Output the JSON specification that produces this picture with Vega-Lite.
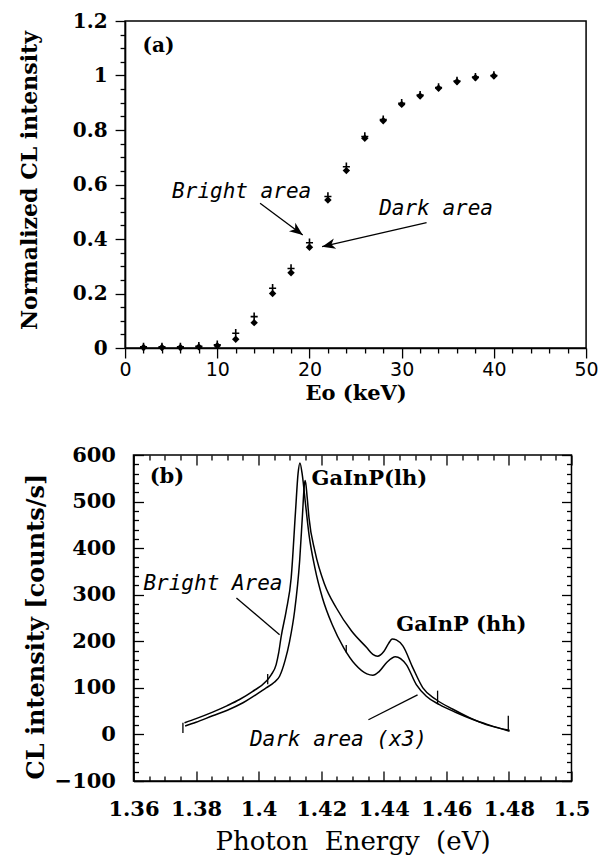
{
  "$schema": "https://vega.github.io/schema/vega-lite/v6.json",
  "background": "white",
  "padding": {"left": 17, "top": 10, "right": 5, "bottom": 5},
  "center": true,
  "spacing": 39,
  "config": {
    "view": {"stroke": "black", "strokeWidth": 1.5},
    "axis": {"grid": false, "domainColor": "black", "domainWidth": 1.5, "tickColor": "black", "tickWidth": 1.3, "labelColor": "black", "titleColor": "black", "labelFlush": false, "labelOverlap": false, "format": "~r"}
  },
  "datasets": {
    "pts": [
      {"E": 2, "I": 0.002, "area": "Dark"}, {"E": 4, "I": 0.002, "area": "Dark"}, {"E": 6, "I": 0.002, "area": "Dark"}, {"E": 8, "I": 0.004, "area": "Dark"}, {"E": 10, "I": 0.008, "area": "Dark"},
      {"E": 12, "I": 0.032, "area": "Dark"}, {"E": 14, "I": 0.093, "area": "Dark"}, {"E": 16, "I": 0.2, "area": "Dark"}, {"E": 18, "I": 0.276, "area": "Dark"}, {"E": 20, "I": 0.37, "area": "Dark"},
      {"E": 22, "I": 0.543, "area": "Dark"}, {"E": 24, "I": 0.651, "area": "Dark"}, {"E": 26, "I": 0.77, "area": "Dark"}, {"E": 28, "I": 0.834, "area": "Dark"}, {"E": 30, "I": 0.894, "area": "Dark"},
      {"E": 32, "I": 0.925, "area": "Dark"}, {"E": 34, "I": 0.953, "area": "Dark"}, {"E": 36, "I": 0.977, "area": "Dark"}, {"E": 38, "I": 0.992, "area": "Dark"}, {"E": 40, "I": 0.998, "area": "Dark"},
      {"E": 2, "I": 0.004, "area": "Bright"}, {"E": 4, "I": 0.004, "area": "Bright"}, {"E": 6, "I": 0.004, "area": "Bright"}, {"E": 8, "I": 0.006, "area": "Bright"}, {"E": 10, "I": 0.012, "area": "Bright"},
      {"E": 12, "I": 0.054, "area": "Bright"}, {"E": 14, "I": 0.115, "area": "Bright"}, {"E": 16, "I": 0.219, "area": "Bright"}, {"E": 18, "I": 0.292, "area": "Bright"}, {"E": 20, "I": 0.386, "area": "Bright"},
      {"E": 22, "I": 0.556, "area": "Bright"}, {"E": 24, "I": 0.665, "area": "Bright"}, {"E": 26, "I": 0.776, "area": "Bright"}, {"E": 28, "I": 0.838, "area": "Bright"}, {"E": 30, "I": 0.898, "area": "Bright"},
      {"E": 32, "I": 0.928, "area": "Bright"}, {"E": 34, "I": 0.956, "area": "Bright"}, {"E": 36, "I": 0.98, "area": "Bright"}, {"E": 38, "I": 0.994, "area": "Bright"}, {"E": 40, "I": 1.0, "area": "Bright"}
    ],
    "arrowsA": [
      {"E": 14.64, "I": 0.531, "E2": 19.27, "I2": 0.415, "name": "Bright"},
      {"E": 32.7, "I": 0.46, "E2": 21.37, "I2": 0.372, "name": "Dark"}
    ],
    "labelsA": [
      {"E": 12.64, "I": 0.55, "t": "Bright area"},
      {"E": 33.73, "I": 0.488, "t": "Dark area"}
    ],
    "spectra": [
      {"E": 1.3763, "I": 25, "s": "Bright"}, {"E": 1.380, "I": 34, "s": "Bright"}, {"E": 1.3853, "I": 48, "s": "Bright"}, {"E": 1.390, "I": 62, "s": "Bright"}, {"E": 1.3939, "I": 75, "s": "Bright"},
      {"E": 1.398, "I": 92, "s": "Bright"}, {"E": 1.4024, "I": 114, "s": "Bright"}, {"E": 1.4040, "I": 128, "s": "Bright"}, {"E": 1.4056, "I": 150, "s": "Bright"}, {"E": 1.4064, "I": 175, "s": "Bright"},
      {"E": 1.4072, "I": 210, "s": "Bright"}, {"E": 1.4088, "I": 265, "s": "Bright"}, {"E": 1.4104, "I": 336, "s": "Bright"}, {"E": 1.4118, "I": 480, "s": "Bright"}, {"E": 1.4126, "I": 560, "s": "Bright"},
      {"E": 1.4132, "I": 583, "s": "Bright"}, {"E": 1.4140, "I": 555, "s": "Bright"}, {"E": 1.4149, "I": 500, "s": "Bright"}, {"E": 1.4161, "I": 429, "s": "Bright"}, {"E": 1.4180, "I": 357, "s": "Bright"},
      {"E": 1.4204, "I": 293, "s": "Bright"}, {"E": 1.4235, "I": 236, "s": "Bright"}, {"E": 1.4272, "I": 186, "s": "Bright"}, {"E": 1.4309, "I": 150, "s": "Bright"}, {"E": 1.4346, "I": 130, "s": "Bright"},
      {"E": 1.4365, "I": 127, "s": "Bright"}, {"E": 1.4385, "I": 135, "s": "Bright"}, {"E": 1.4410, "I": 155, "s": "Bright"}, {"E": 1.4437, "I": 167, "s": "Bright"}, {"E": 1.4472, "I": 150, "s": "Bright"},
      {"E": 1.4504, "I": 107, "s": "Bright"}, {"E": 1.4536, "I": 82, "s": "Bright"}, {"E": 1.4578, "I": 64, "s": "Bright"}, {"E": 1.4631, "I": 47, "s": "Bright"}, {"E": 1.4685, "I": 32, "s": "Bright"},
      {"E": 1.4738, "I": 20, "s": "Bright"}, {"E": 1.4802, "I": 7, "s": "Bright"},
      {"E": 1.3765, "I": 18, "s": "Dark"}, {"E": 1.380, "I": 26, "s": "Dark"}, {"E": 1.3853, "I": 40, "s": "Dark"}, {"E": 1.390, "I": 52, "s": "Dark"}, {"E": 1.395, "I": 68, "s": "Dark"},
      {"E": 1.4024, "I": 100, "s": "Dark"}, {"E": 1.4050, "I": 112, "s": "Dark"}, {"E": 1.4067, "I": 125, "s": "Dark"}, {"E": 1.4085, "I": 160, "s": "Dark"}, {"E": 1.4099, "I": 200, "s": "Dark"},
      {"E": 1.4115, "I": 265, "s": "Dark"}, {"E": 1.4131, "I": 372, "s": "Dark"}, {"E": 1.4140, "I": 470, "s": "Dark"}, {"E": 1.4146, "I": 535, "s": "Dark"}, {"E": 1.4149, "I": 545, "s": "Dark"},
      {"E": 1.4155, "I": 510, "s": "Dark"}, {"E": 1.4161, "I": 465, "s": "Dark"}, {"E": 1.4180, "I": 393, "s": "Dark"}, {"E": 1.4211, "I": 322, "s": "Dark"}, {"E": 1.4248, "I": 272, "s": "Dark"},
      {"E": 1.4297, "I": 222, "s": "Dark"}, {"E": 1.4346, "I": 186, "s": "Dark"}, {"E": 1.4365, "I": 172, "s": "Dark"}, {"E": 1.4380, "I": 168, "s": "Dark"}, {"E": 1.4400, "I": 178, "s": "Dark"},
      {"E": 1.4415, "I": 195, "s": "Dark"}, {"E": 1.4427, "I": 205, "s": "Dark"}, {"E": 1.4440, "I": 203, "s": "Dark"}, {"E": 1.4461, "I": 190, "s": "Dark"}, {"E": 1.4493, "I": 143, "s": "Dark"},
      {"E": 1.4525, "I": 100, "s": "Dark"}, {"E": 1.4567, "I": 75, "s": "Dark"}, {"E": 1.4621, "I": 54, "s": "Dark"}, {"E": 1.4674, "I": 36, "s": "Dark"}, {"E": 1.4727, "I": 21, "s": "Dark"},
      {"E": 1.4802, "I": 9, "s": "Dark"}
    ],
    "spikes": [
      {"E": 1.3758, "lo": 3, "hi": 25},
      {"E": 1.4029, "lo": 108, "hi": 130},
      {"E": 1.428, "lo": 176, "hi": 192},
      {"E": 1.4572, "lo": 66, "hi": 94},
      {"E": 1.4798, "lo": 10, "hi": 40}
    ],
    "pointersB": [
      {"E": 1.3929, "I": 293, "E2": 1.4067, "I2": 214},
      {"E": 1.4351, "I": 31.5, "E2": 1.4508, "I2": 85}
    ],
    "boldB": [
      {"E": 1.3707, "I": 553, "t": "(b)"},
      {"E": 1.4354, "I": 549, "t": "GaInP(lh)"},
      {"E": 1.4648, "I": 234, "t": "GaInP (hh)"}
    ],
    "italB": [
      {"E": 1.3854, "I": 310, "t": "Bright Area"},
      {"E": 1.4255, "I": -24, "t": "Dark area (x3)"}
    ]
  },
  "vconcat": [
    {
      "width": 461,
      "height": 327,
      "resolve": {"axis": {"x": "independent", "y": "independent"}},
      "layer": [
        {
          "data": {"name": "pts"},
          "transform": [{"filter": "datum.area === 'Dark'"}],
          "mark": {"type": "point", "shape": "diamond", "filled": true, "color": "black", "size": 55, "opacity": 1},
          "encoding": {
            "x": {"field": "E", "type": "quantitative", "scale": {"domain": [0, 50], "nice": false, "zero": false},
              "axis": {"orient": "bottom", "values": [0, 10, 20, 30, 40, 50], "tickSize": 10, "labelPadding": 2,
                "labelFont": "DejaVu Sans", "labelFontSize": 19, "labelBaseline": "top",
                "title": "Eo (keV)", "titleFont": "DejaVu Serif", "titleFontWeight": "bold", "titleFontSize": 21,
                "titleY": 45, "titleBaseline": "middle"}},
            "y": {"field": "I", "type": "quantitative", "scale": {"domain": [0, 1.2], "nice": false, "zero": false},
              "axis": {"orient": "left", "values": [0, 0.2, 0.4, 0.6, 0.8, 1, 1.2], "tickSize": 10, "labelPadding": 8,
                "labelFont": "DejaVu Serif", "labelFontWeight": "bold", "labelFontSize": 20,
                "title": "Normalized CL intensity", "titleFont": "DejaVu Serif", "titleFontWeight": "bold", "titleFontSize": 22,
                "titleX": -96, "titleY": 159, "titleBaseline": "middle", "titleAlign": "center"}}
          }
        },
        {
          "data": {"name": "pts"},
          "transform": [{"filter": "datum.area === 'Bright'"}],
          "mark": {"type": "point", "shape": "M-1,0L1,0M0,-1.2L0,1", "filled": false, "stroke": "black", "strokeWidth": 1.6, "size": 50, "opacity": 1},
          "encoding": {
            "x": {"field": "E", "type": "quantitative",
              "axis": {"orient": "bottom", "values": [2, 4, 6, 8, 12, 14, 16, 18, 22, 24, 26, 28, 32, 34, 36, 38, 42, 44, 46, 48], "tickSize": 5, "labels": false, "domain": false, "title": null}},
            "y": {"field": "I", "type": "quantitative",
              "axis": {"orient": "left", "values": [0.05, 0.1, 0.15, 0.25, 0.3, 0.35, 0.45, 0.5, 0.55, 0.65, 0.7, 0.75, 0.85, 0.9, 0.95, 1.05, 1.1, 1.15], "tickSize": 5, "labels": false, "domain": false, "title": null}}
          }
        },
        {
          "data": {"name": "arrowsA"},
          "mark": {"type": "rule", "color": "black", "strokeWidth": 1.3},
          "encoding": {
            "x": {"field": "E", "type": "quantitative", "axis": null},
            "y": {"field": "I", "type": "quantitative", "axis": null},
            "x2": {"field": "E2"},
            "y2": {"field": "I2"}
          }
        },
        {
          "data": {"name": "arrowsA"},
          "transform": [{"filter": "datum.name === 'Bright'"}],
          "mark": {"type": "point", "shape": "M0,0L-1,-0.4L-0.72,0L-1,0.4Z", "filled": true, "color": "black", "size": 700, "angle": 36.6, "opacity": 1},
          "encoding": {
            "x": {"field": "E2", "type": "quantitative", "axis": null},
            "y": {"field": "I2", "type": "quantitative", "axis": null}
          }
        },
        {
          "data": {"name": "arrowsA"},
          "transform": [{"filter": "datum.name === 'Dark'"}],
          "mark": {"type": "point", "shape": "M0,0L-1,-0.4L-0.72,0L-1,0.4Z", "filled": true, "color": "black", "size": 700, "angle": 167.1, "opacity": 1},
          "encoding": {
            "x": {"field": "E2", "type": "quantitative", "axis": null},
            "y": {"field": "I2", "type": "quantitative", "axis": null}
          }
        },
        {
          "data": {"values": [{"E": 3.63, "I": 1.11, "t": "(a)"}]},
          "mark": {"type": "text", "font": "DejaVu Serif", "fontWeight": "bold", "fontSize": 20, "align": "center", "baseline": "middle", "color": "black"},
          "encoding": {
            "x": {"field": "E", "type": "quantitative", "axis": null},
            "y": {"field": "I", "type": "quantitative", "axis": null},
            "text": {"field": "t"}
          }
        },
        {
          "data": {"name": "labelsA"},
          "mark": {"type": "text", "font": "DejaVu Sans Mono", "fontStyle": "oblique", "fontSize": 21, "align": "center", "baseline": "alphabetic", "color": "black"},
          "encoding": {
            "x": {"field": "E", "type": "quantitative", "axis": null},
            "y": {"field": "I", "type": "quantitative", "axis": null},
            "text": {"field": "t"}
          }
        }
      ]
    },
    {
      "width": 438,
      "height": 326,
      "resolve": {"axis": {"x": "independent", "y": "independent"}},
      "layer": [
        {
          "data": {"name": "spectra"},
          "mark": {"type": "line", "color": "black", "strokeWidth": 1.5, "interpolate": "monotone"},
          "encoding": {
            "x": {"field": "E", "type": "quantitative", "scale": {"domain": [1.36, 1.5], "nice": false, "zero": false},
              "axis": {"orient": "bottom", "values": [1.36, 1.38, 1.4, 1.42, 1.44, 1.46, 1.48, 1.5], "tickSize": -10, "labelPadding": 27,
                "labelFont": "DejaVu Serif", "labelFontWeight": "bold", "labelFontSize": 21, "labelBaseline": "top",
                "title": "Photon \u00a0Energy \u00a0(eV)", "titleFont": "DejaVu Serif", "titleFontWeight": "normal", "titleFontSize": 26,
                "titleY": 60, "titleBaseline": "middle"}},
            "y": {"field": "I", "type": "quantitative", "scale": {"domain": [-100, 600], "nice": false, "zero": false},
              "axis": {"orient": "left", "values": [-100, 0, 100, 200, 300, 400, 500, 600], "tickSize": -10, "labelPadding": 28,
                "labelFont": "DejaVu Serif", "labelFontWeight": "bold", "labelFontSize": 21,
                "title": "CL intensity [counts/s]", "titleFont": "DejaVu Serif", "titleFontWeight": "bold", "titleFontSize": 24,
                "titleX": -96.5, "titleY": 171, "titleBaseline": "middle", "titleAlign": "center"}},
            "detail": {"field": "s"}
          }
        },
        {
          "data": {"name": "spikes"},
          "mark": {"type": "rule", "color": "black", "strokeWidth": 1.3},
          "encoding": {
            "x": {"field": "E", "type": "quantitative",
              "axis": {"orient": "bottom", "values": [1.365, 1.37, 1.375, 1.385, 1.39, 1.395, 1.405, 1.41, 1.415, 1.425, 1.43, 1.435, 1.445, 1.45, 1.455, 1.465, 1.47, 1.475, 1.485, 1.49, 1.495], "tickSize": -5, "labels": false, "domain": false, "title": null}},
            "y": {"field": "lo", "type": "quantitative",
              "axis": {"orient": "left", "values": [-80, -60, -40, -20, 20, 40, 60, 80, 120, 140, 160, 180, 220, 240, 260, 280, 320, 340, 360, 380, 420, 440, 460, 480, 520, 540, 560, 580], "tickSize": -5, "labels": false, "domain": false, "title": null}},
            "y2": {"field": "hi"}
          }
        },
        {
          "data": {"name": "pointersB"},
          "mark": {"type": "rule", "color": "black", "strokeWidth": 1.3},
          "encoding": {
            "x": {"field": "E", "type": "quantitative",
              "axis": {"orient": "top", "values": [1.36, 1.38, 1.4, 1.42, 1.44, 1.46, 1.48, 1.5], "tickSize": -10, "labels": false, "domain": false, "title": null}},
            "y": {"field": "I", "type": "quantitative",
              "axis": {"orient": "right", "values": [-100, 0, 100, 200, 300, 400, 500, 600], "tickSize": -10, "labels": false, "domain": false, "title": null}},
            "x2": {"field": "E2"},
            "y2": {"field": "I2"}
          }
        },
        {
          "data": {"name": "boldB"},
          "mark": {"type": "text", "font": "DejaVu Serif", "fontWeight": "bold", "fontSize": 21, "align": "center", "baseline": "middle", "color": "black"},
          "encoding": {
            "x": {"field": "E", "type": "quantitative",
              "axis": {"orient": "top", "values": [1.365, 1.37, 1.375, 1.385, 1.39, 1.395, 1.405, 1.41, 1.415, 1.425, 1.43, 1.435, 1.445, 1.45, 1.455, 1.465, 1.47, 1.475, 1.485, 1.49, 1.495], "tickSize": -5, "labels": false, "domain": false, "title": null}},
            "y": {"field": "I", "type": "quantitative",
              "axis": {"orient": "right", "values": [-80, -60, -40, -20, 20, 40, 60, 80, 120, 140, 160, 180, 220, 240, 260, 280, 320, 340, 360, 380, 420, 440, 460, 480, 520, 540, 560, 580], "tickSize": -5, "labels": false, "domain": false, "title": null}},
            "text": {"field": "t"}
          }
        },
        {
          "data": {"name": "italB"},
          "mark": {"type": "text", "font": "DejaVu Sans Mono", "fontStyle": "oblique", "fontSize": 21, "align": "center", "baseline": "alphabetic", "color": "black"},
          "encoding": {
            "x": {"field": "E", "type": "quantitative", "axis": null},
            "y": {"field": "I", "type": "quantitative", "axis": null},
            "text": {"field": "t"}
          }
        }
      ]
    }
  ]
}
